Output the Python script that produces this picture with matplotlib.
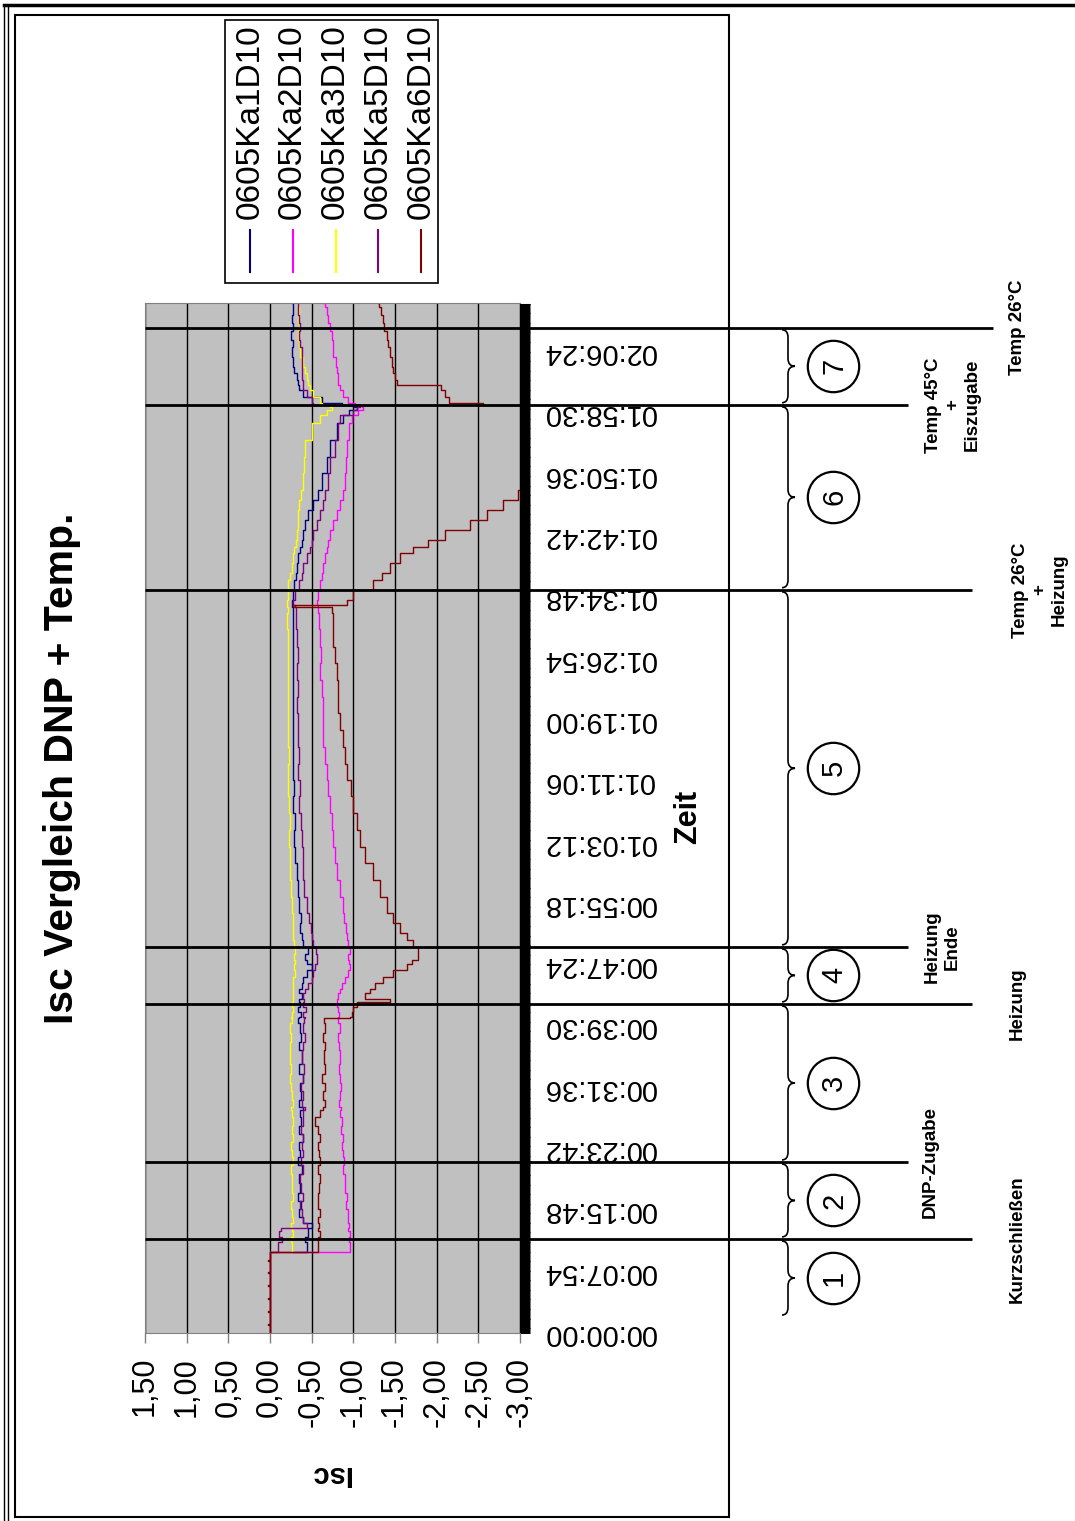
import matplotlib.pyplot as plt
import numpy as np
from matplotlib.patches import PathPatch, Rectangle
from matplotlib.path import Path

plt.rcParams["font.family"] = ["Liberation Sans", "DejaVu Sans"]

W, H = 1075, 1521  # page size in px (dpi 100)

series_names = ["0605Ka1D10", "0605Ka2D10", "0605Ka3D10", "0605Ka5D10", "0605Ka6D10"]
series_colors = ["#000080", "#ff00ff", "#ffff00", "#800080", "#800000"]

# sample times in seconds since start
t_s = [
    0, 60, 68, 160, 168, 260, 268, 360, 368, 460,
    468, 560, 568, 620, 626, 700, 742, 790, 812, 850,
    897, 960, 1020, 1080, 1160, 1230, 1300, 1360, 1415, 1480,
    1540, 1600, 1670, 1724, 1750, 1800, 1870, 1933, 2000, 2080,
    2188, 2250, 2320, 2400, 2436, 2444, 2480, 2520, 2560, 2580,
    2629, 2660, 2707, 2753, 2807, 2850, 2884, 2930, 2985, 3040,
    3093, 3170, 3248, 3370, 3503, 3630, 3758, 3890, 4021, 4150,
    4276, 4400, 4532, 4660, 4795, 4920, 5050, 5180, 5305, 5440,
    5568, 5614, 5630, 5668, 5746, 5823, 5877, 5954, 6032, 6078,
    6132, 6210, 6287, 6364, 6441, 6519, 6650, 6774, 6905, 7037,
    7100, 7138, 7160, 7176, 7192, 7238, 7292, 7330, 7370, 7420,
    7470, 7547, 7620, 7679, 7750, 7810, 7870, 7934, 7963,
]

isc_ka1 = [
    0, 0, 0, 0, 0, 0, 0, 0, 0, 0,
    0, 0, 0, 0, -0.44, -0.42, -0.46, -0.45, -0.50, -0.40,
    -0.35, -0.37, -0.34, -0.36, -0.35, -0.38, -0.34, -0.36, -0.35, -0.39,
    -0.35, -0.37, -0.36, -0.40, -0.35, -0.37, -0.36, -0.39, -0.35, -0.38,
    -0.35, -0.37, -0.36, -0.34, -0.35, -0.37, -0.34, -0.36, -0.35, -0.38,
    -0.35, -0.38, -0.40, -0.44, -0.50, -0.44, -0.42, -0.45, -0.40, -0.38,
    -0.36, -0.37, -0.35, -0.33, -0.32, -0.30, -0.29, -0.30, -0.28, -0.29,
    -0.27, -0.28, -0.27, -0.28, -0.27, -0.28, -0.27, -0.28, -0.28, -0.27,
    -0.27, -0.26, -0.26, -0.27, -0.29, -0.31, -0.32, -0.34, -0.36, -0.38,
    -0.40, -0.42, -0.45, -0.52, -0.58, -0.62, -0.68, -0.72, -0.80, -0.88,
    -0.95, -1.04, -1.00, -0.86, -0.62, -0.40, -0.35, -0.33, -0.32, -0.29,
    -0.27, -0.26, -0.28, -0.25, -0.27, -0.26, -0.28, -0.28, -0.26,
]
isc_ka2 = [
    0, 0, 0, 0, 0, 0, 0, 0, 0, 0,
    0, 0, 0, 0, -0.96, -0.95, -0.96, -0.94, -0.95, -0.93,
    -0.93, -0.91, -0.92, -0.90, -0.90, -0.88, -0.89, -0.87, -0.86, -0.87,
    -0.85, -0.86, -0.84, -0.85, -0.83, -0.84, -0.85, -0.84, -0.83, -0.84,
    -0.83, -0.82, -0.84, -0.82, -0.82, -0.83, -0.81, -0.80, -0.80, -0.82,
    -0.84, -0.86, -0.90, -0.94, -0.96, -0.95, -0.94, -0.96, -0.94, -0.92,
    -0.91, -0.89, -0.88, -0.84, -0.80, -0.78, -0.76, -0.74, -0.72, -0.70,
    -0.68, -0.66, -0.64, -0.64, -0.63, -0.62, -0.60, -0.61, -0.60, -0.59,
    -0.58, -0.57, -0.56, -0.57, -0.60, -0.62, -0.63, -0.66, -0.68, -0.70,
    -0.72, -0.76, -0.80, -0.84, -0.87, -0.90, -0.91, -0.92, -0.95, -0.98,
    -1.05, -1.12, -1.10, -1.02, -0.94, -0.88, -0.84, -0.82, -0.81, -0.80,
    -0.79, -0.76, -0.75, -0.74, -0.72, -0.70, -0.68, -0.66, -0.63,
]
isc_ka3 = [
    0, 0, 0, 0, 0, 0, 0, 0, 0, 0,
    0, 0, 0, 0, -0.26, -0.25, -0.27, -0.26, -0.25, -0.27,
    -0.26, -0.25, -0.27, -0.26, -0.26, -0.25, -0.27, -0.26, -0.25, -0.27,
    -0.26, -0.27, -0.26, -0.25, -0.27, -0.26, -0.25, -0.24, -0.25, -0.24,
    -0.24, -0.25, -0.24, -0.26, -0.25, -0.26, -0.27, -0.26, -0.27, -0.27,
    -0.27, -0.28, -0.28, -0.30, -0.29, -0.30, -0.29, -0.30, -0.29, -0.28,
    -0.28, -0.27, -0.26, -0.25, -0.24, -0.24, -0.23, -0.24, -0.23, -0.22,
    -0.22, -0.23, -0.22, -0.22, -0.21, -0.22, -0.21, -0.21, -0.21, -0.20,
    -0.21, -0.20, -0.20, -0.21, -0.22, -0.24, -0.26, -0.28, -0.29, -0.31,
    -0.32, -0.33, -0.34, -0.35, -0.37, -0.40, -0.41, -0.42, -0.50, -0.60,
    -0.68, -0.74, -0.72, -0.62, -0.60, -0.52, -0.48, -0.46, -0.44, -0.42,
    -0.40, -0.36, -0.35, -0.34, -0.35, -0.34, -0.35, -0.34, -0.34,
]
isc_ka5 = [
    0, 0, 0, 0, 0, 0, 0, 0, 0, 0,
    0, 0, 0, 0, -0.10, -0.14, -0.11, -0.13, -0.44, -0.40,
    -0.38, -0.36, -0.39, -0.37, -0.36, -0.40, -0.37, -0.39, -0.38, -0.40,
    -0.37, -0.40, -0.39, -0.42, -0.38, -0.40, -0.37, -0.39, -0.41, -0.38,
    -0.40, -0.42, -0.39, -0.41, -0.42, -0.40, -0.43, -0.40, -0.41, -0.40,
    -0.42, -0.46, -0.50, -0.52, -0.54, -0.56, -0.56, -0.55, -0.52, -0.50,
    -0.49, -0.47, -0.44, -0.41, -0.40, -0.39, -0.38, -0.37, -0.35, -0.36,
    -0.34, -0.35, -0.33, -0.34, -0.32, -0.33, -0.32, -0.33, -0.32, -0.31,
    -0.31, -0.30, -0.28, -0.30, -0.35, -0.38, -0.40, -0.44, -0.48, -0.50,
    -0.52, -0.56, -0.60, -0.64, -0.66, -0.70, -0.72, -0.78, -0.82, -0.84,
    -1.00, -1.04, -1.08, -0.52, -0.50, -0.44, -0.40, -0.39, -0.38, -0.38,
    -0.38, -0.38, -0.36, -0.35, -0.36, -0.35, -0.34, -0.34, -0.34,
]
isc_ka6 = [
    0, 0.03, 0, 0.03, 0, 0.03, 0, 0.03, 0, 0.03,
    0, 0.03, 0, 0, -0.58, -0.57, -0.60, -0.58, -0.59, -0.57,
    -0.60, -0.58, -0.57, -0.59, -0.60, -0.58, -0.60, -0.59, -0.57, -0.60,
    -0.58, -0.54, -0.60, -0.63, -0.66, -0.64, -0.66, -0.62, -0.66, -0.65,
    -0.66, -0.63, -0.66, -0.65, -0.96, -0.98, -1.00, -1.04, -1.44, -1.14,
    -1.20, -1.26, -1.36, -1.47, -1.64, -1.70, -1.77, -1.77, -1.72, -1.64,
    -1.56, -1.48, -1.40, -1.32, -1.24, -1.14, -1.08, -1.04, -1.00, -0.97,
    -0.92, -0.90, -0.88, -0.84, -0.82, -0.81, -0.80, -0.78, -0.76, -0.75,
    -0.74, -0.28, -0.92, -1.00, -1.24, -1.34, -1.44, -1.56, -1.72, -1.90,
    -2.10, -2.40, -2.60, -2.80, -2.97, -3.40, -3.40, -3.40, -3.40, -3.40,
    -3.40, -3.40, -3.40, -2.55, -2.15, -2.10, -2.05, -1.52, -1.50, -1.48,
    -1.46, -1.44, -1.42, -1.40, -1.37, -1.35, -1.33, -1.31, -1.30,
]
series_isc = [isc_ka1, isc_ka2, isc_ka3, isc_ka5, isc_ka6]

# process steps
event_t = [727, 1322, 2544, 2985, 5746, 7176, 7772]
event_labels = ["Kurzschließen", "DNP-Zugabe", "Heizung", "Heizung\nEnde",
                "Temp 26°C\n+\nHeizung", "Temp 45°C\n+\nEiszugabe", "Temp 26°C"]
phase_t = [123, 727, 1322, 2544, 2985, 5746, 7176, 7772]

isc_ticks = [1.5, 1.0, 0.5, 0.0, -0.5, -1.0, -1.5, -2.0, -2.5, -3.0]
time_step = 474
t_max = 7963


def px_rect(x0, y0, x1, y1):
    return [x0 / W, 1 - y1 / H, (x1 - x0) / W, (y1 - y0) / H]


PLOT_L, PLOT_R = 145, 520


def ax_x(px):
    # page x in px -> axes fraction of the plot
    return (px - PLOT_L) / (PLOT_R - PLOT_L)


def hms(s):
    return f"{s // 3600:02d}:{s % 3600 // 60:02d}:{s % 60:02d}"


fig = plt.figure(figsize=(W / 100, H / 100), dpi=100)

page = fig.add_axes([0, 0, 1, 1], zorder=-1)
page.set_xlim(0, W)
page.set_ylim(H, 0)
page.axis("off")

ax = fig.add_axes(px_rect(PLOT_L, 303, PLOT_R, 1333))
ax.set_facecolor("#c0c0c0")

for name, color, isc in zip(series_names, series_colors, series_isc):
    ax.plot(isc, t_s, color=color, lw=1.0, drawstyle="steps-pre", label=name)

ax.grid(axis="x", color="black", lw=1.0)
for side in ["left", "top", "bottom"]:
    ax.spines[side].set_color("#808080")
ax.spines["right"].set_color("black")

ax.set_xticks(isc_ticks, [f"{v:.2f}".replace(".", ",") for v in isc_ticks],
              rotation=90, fontsize=22)
ax.tick_params(axis="x", direction="out", length=7.2, width=1, color="#808080", pad=10)

time_ticks = np.arange(0, t_max, time_step)
ax.yaxis.tick_right()
ax.set_yticks(time_ticks, [hms(int(s)) for s in time_ticks],
              rotation=180, va="center", fontsize=21)
ax.tick_params(axis="y", length=0, pad=16.5)

ytr = ax.get_yaxis_transform()

# category tick band along the time axis
ax.hlines(np.arange(0, t_max, 7), 1.0, 1.027, transform=ytr,
          colors="black", lw=0.75, clip_on=False)

# step markers
line_end = [972, 908, 972, 908, 972, 908, 993]
for t, x_end in zip(event_t, line_end):
    ax.hlines(t, 0, ax_x(x_end), transform=ytr, colors="black", lw=2,
              clip_on=False, zorder=3)

label_x = [1017, 930, 1017, 942, 1040, 953, 1017]
for t, lbl, lx in zip(event_t, event_labels, label_x):
    ax.text(ax_x(lx), t, lbl, transform=ytr, rotation=90, ha="center", va="center",
            multialignment="center", fontsize=13.5, fontweight="bold", clip_on=False)


def brace(t0, t1):
    xb, xm, xt = ax_x(782), ax_x(788), ax_x(795)
    tm = (t0 + t1) / 2
    r = min(60, (t1 - t0) / 4)
    verts = [(xb, t0), (xm, t0), (xm, t0 + r),
             (xm, tm - r), (xm, tm), (xt, tm),
             (xm, tm), (xm, tm + r),
             (xm, t1 - r), (xm, t1), (xb, t1)]
    codes = [Path.MOVETO, Path.CURVE3, Path.CURVE3, Path.LINETO,
             Path.CURVE3, Path.CURVE3, Path.CURVE3, Path.CURVE3,
             Path.LINETO, Path.CURVE3, Path.CURVE3]
    ax.add_patch(PathPatch(Path(verts, codes), transform=ytr, fill=False,
                           lw=1.2, ec="black", clip_on=False))


for i in range(len(phase_t) - 1):
    t0, t1 = phase_t[i] + 16, phase_t[i + 1] - 16
    brace(t0, t1)
    mid = (t0 + t1) / 2
    ax.plot([ax_x(833)], [mid], marker="o", ms=37, mfc="white", mec="black",
            mew=1.6, transform=ytr, clip_on=False, zorder=4)
    ax.text(ax_x(834), mid, str(i + 1), transform=ytr, rotation=90, ha="center",
            va="center", fontsize=21, clip_on=False, zorder=5)

ax.set_xlim(1.5, -3.0)
ax.set_ylim(0, t_max)

# page decorations
page.plot([4, W], [5, 5], color="black", lw=2.5)
page.plot([3.5, 3.5], [5, H], color="black", lw=1)
page.plot([7.5, 7.5], [5, H], color="black", lw=1)
page.add_patch(Rectangle((15, 15), 714, 1502, fill=False, ec="black", lw=1.5))

page.text(62, 768, "Isc Vergleich DNP + Temp.", rotation=90, ha="center", va="center",
          fontsize=29.5, fontweight="bold")
page.text(688, 817, "Zeit", rotation=90, ha="center", va="center",
          fontsize=22, fontweight="bold")
page.text(330, 1474, "Isc", rotation=180, ha="center", va="center",
          fontsize=21, fontweight="bold")

# legend
page.add_patch(Rectangle((225, 20), 213, 263, fill=False, ec="black", lw=1.2))
for i, (name, color) in enumerate(zip(series_names, series_colors)):
    x = 250 + 42.75 * i
    page.plot([x, x], [230, 272], color=color, lw=1.5)
    page.text(x, 219, name, rotation=90, ha="center", va="bottom", fontsize=24)

fig.savefig("out.png", dpi=100)
